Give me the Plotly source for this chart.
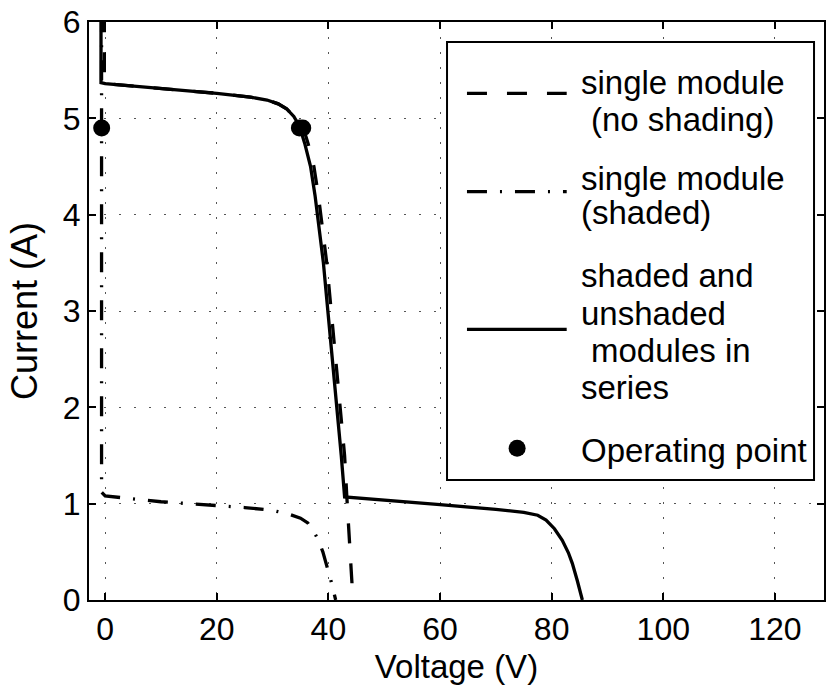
import plotly.graph_objects as go

# ---- data ----
v_unshaded = [-0.15, -0.15, 0, 10, 20, 26, 29, 31, 32.5, 33.8, 35.4, 36.4, 37.4, 38.2, 38.9, 39.7, 40.5, 41.4, 42.2, 42.9, 43.3, 43.7, 44.1, 44.4]
i_unshaded = [6.1, 5.38, 5.36, 5.31, 5.26, 5.22, 5.19, 5.15, 5.1, 5.02, 4.92, 4.73, 4.5, 4.2, 3.9, 3.5, 3.0, 2.45, 2.0, 1.5, 1.07, 0.7, 0.3, 0.0]

v_shaded = [-0.65, -0.65, 0, 5, 10, 15, 20, 25, 30, 33, 35, 36.3, 37.3, 38.2, 39.0, 39.8, 40.5, 41.3]
i_shaded = [6.1, 1.12, 1.08, 1.05, 1.02, 1.0, 0.98, 0.96, 0.93, 0.89, 0.85, 0.8, 0.72, 0.62, 0.5, 0.35, 0.19, 0.0]

v_series = [-0.75, -0.75, 0, 10, 20, 26, 29, 31, 32.5, 33.8, 34.8, 35.8, 36.8, 37.6, 38.3, 39.1, 39.9, 40.8, 41.6, 42.3, 42.9, 50, 60, 70, 75, 77.5, 79, 80.5, 81.9, 83, 83.7, 84.6, 85.5]
i_series = [6.1, 5.37, 5.36, 5.31, 5.26, 5.22, 5.19, 5.15, 5.1, 5.02, 4.92, 4.73, 4.5, 4.2, 3.9, 3.5, 3.0, 2.45, 2.0, 1.5, 1.07, 1.04, 0.99, 0.94, 0.91, 0.88, 0.83, 0.74, 0.62, 0.49, 0.38, 0.2, 0.0]

v_op = [-0.63, 34.8, 35.4]
i_op = [4.9, 4.9, 4.9]

x_ticks = [0, 20, 40, 60, 80, 100, 120]
y_ticks = [0, 1, 2, 3, 4, 5, 6]

legend_lines = [["single module", " (no shading)"], ["single module", "(shaded)"],
                ["shaded and", "unshaded", " modules in", "series"], ["Operating point"]]

FONT = "Liberation Sans, Arial, Helvetica, sans-serif"
FS_TICK = 32
FS_XTITLE = 33
FS_YTITLE = 36
FS_LEG = 33
LW = 3.3
DASH = "20px,20px"
DASHDOT = "20px,13px,2px,13px"

fig = go.Figure()
fig.add_trace(go.Scatter(x=v_unshaded, y=i_unshaded, mode="lines",
                         line=dict(color="black", width=LW, dash=DASH), showlegend=False))
fig.add_trace(go.Scatter(x=v_shaded, y=i_shaded, mode="lines",
                         line=dict(color="black", width=LW, dash=DASHDOT), showlegend=False))
fig.add_trace(go.Scatter(x=v_series, y=i_series, mode="lines",
                         line=dict(color="black", width=LW), showlegend=False))
fig.add_trace(go.Scatter(x=v_op, y=i_op, mode="markers",
                         marker=dict(color="black", size=17, line=dict(width=0)), showlegend=False))

# plot-area geometry in pixels (for the hand-drawn legend box)
L, R, T, B = 89, 826, 22, 600
def px(xp):
    return (xp - L) / (R - L)
def py(yp):
    return (B - yp) / (B - T)

shapes = []
annotations = []
shapes.append(dict(type="rect", xref="paper", yref="paper", x0=px(448), x1=px(816), y0=py(480), y1=py(42),
                   line=dict(color="black", width=2), fillcolor="white", layer="above"))
sample_styles = [(93.3, DASH), (191.7, DASHDOT), (329.3, "solid")]
for yy, d in sample_styles:
    shapes.append(dict(type="line", xref="paper", yref="paper", x0=px(468), x1=px(568), y0=py(yy), y1=py(yy),
                       line=dict(color="black", width=LW, dash=d), layer="above"))
shapes.append(dict(type="circle", xref="paper", yref="paper", xsizemode="pixel", ysizemode="pixel",
                   xanchor=px(518.3), yanchor=py(448.3), x0=-8.5, x1=8.5, y0=-8.5, y1=8.5,
                   fillcolor="black", line=dict(width=0), layer="above"))

text_y = [[82.5, 119], [178, 212.5], [275, 313.5, 350, 388], [450]]
for lines, ys in zip(legend_lines, text_y):
    for t, yy in zip(lines, ys):
        xx = 580
        if t.startswith(" "):
            xx = 590
        annotations.append(dict(text=t.strip(), xref="paper", yref="paper", x=px(xx), y=py(yy),
                                xanchor="left", yanchor="middle", showarrow=False,
                                font=dict(family=FONT, size=FS_LEG, color="black")))

axis_common = dict(showline=True, linecolor="black", linewidth=2, mirror="ticks",
                   ticks="inside", ticklen=7, tickwidth=1.5, tickcolor="black",
                   showgrid=True, gridcolor="#555", gridwidth=1, griddash="2px,13px",
                   zeroline=False, tickfont=dict(family=FONT, size=FS_TICK, color="black"))

fig.update_layout(
    width=827, height=692,
    margin=dict(l=L, r=827 - R, t=T, b=692 - B),
    paper_bgcolor="white", plot_bgcolor="white",
    xaxis=dict(range=[-2.9, 128.8], tickvals=x_ticks, ticktext=[str(v) for v in x_ticks],
               title=dict(text="Voltage (V)", font=dict(family=FONT, size=FS_XTITLE, color="black"), standoff=8),
               **axis_common),
    yaxis=dict(range=[0, 6], tickvals=y_ticks, ticktext=[str(v) for v in y_ticks],
               title=dict(text="Current (A)", font=dict(family=FONT, size=FS_YTITLE, color="black"), standoff=14),
               **axis_common),
    shapes=shapes, annotations=annotations,
)

fig.write_html("out.html")
